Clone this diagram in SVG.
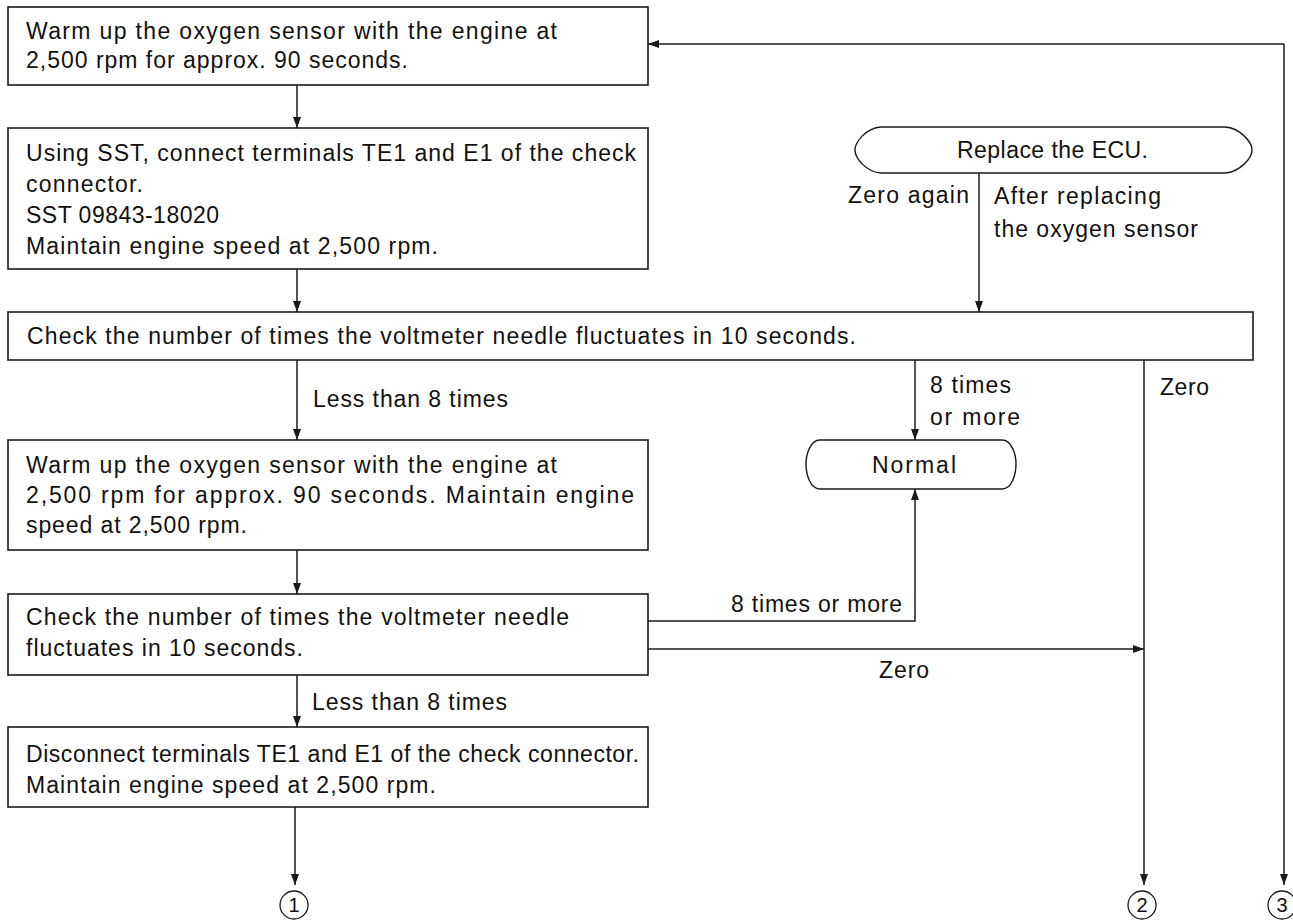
<svg xmlns="http://www.w3.org/2000/svg" width="1293" height="921" viewBox="0 0 1293 921">
<style>
  .box { fill: #ffffff; stroke: #1a1a1a; stroke-width: 1.6; }
  .term { fill: #ffffff; stroke: #1a1a1a; stroke-width: 1.4; }
  .t { font-family: "Liberation Sans", Arial, Helvetica, sans-serif; font-size: 23px; fill: #111111; }
  .num { font-family: "Liberation Sans", Arial, sans-serif; font-size: 20px; fill: #111111; text-anchor: middle; }
  .c { fill: none; stroke: #1a1a1a; stroke-width: 1.5; }
  .ca { fill: none; stroke: #1a1a1a; stroke-width: 1.5; marker-end: url(#ah); }
  .circ { fill: #ffffff; stroke: #1a1a1a; stroke-width: 1.3; }
</style>
<defs>
  <marker id="ah" markerUnits="userSpaceOnUse" markerWidth="11" markerHeight="8" refX="11" refY="4" orient="auto">
    <path d="M0,0 L11,4 L0,8 Z" fill="#1a1a1a"/>
  </marker>
</defs>
<rect x="0" y="0" width="1293" height="921" fill="#ffffff"/>

<g id="connectors">
  <path class="ca" d="M297,85 L297,128"/>
  <path class="ca" d="M297,269 L297,312"/>
  <path class="ca" d="M297,360 L297,440"/>
  <path class="ca" d="M297,550 L297,594"/>
  <path class="ca" d="M297,675 L297,727"/>
  <path class="ca" d="M295,807 L295,885"/>
  <path class="ca" d="M979,173 L979,312"/>
  <path class="ca" d="M915,360 L915,440"/>
  <path class="ca" d="M648,621 L915,621 L915,489"/>
  <path class="ca" d="M1144,360 L1144,885"/>
  <path class="ca" d="M648,649 L1144,649"/>
  <path class="ca" d="M1284,44 L648,44"/>
  <path class="ca" d="M1284,44 L1284,885"/>
  <text class="t" x="313" y="407" textLength="195" lengthAdjust="spacing">Less than 8 times</text>
  <text class="t" x="312" y="710" textLength="195" lengthAdjust="spacing">Less than 8 times</text>
  <text class="t" x="930" y="393" textLength="81" lengthAdjust="spacing">8 times</text>
  <text class="t" x="930" y="425" textLength="90" lengthAdjust="spacing">or more</text>
  <text class="t" x="1160" y="395" textLength="49" lengthAdjust="spacing">Zero</text>
  <text class="t" x="731" y="612" textLength="171" lengthAdjust="spacing">8 times or more</text>
  <text class="t" x="879" y="678" textLength="50" lengthAdjust="spacing">Zero</text>
  <text class="t" x="848" y="203" textLength="121" lengthAdjust="spacing">Zero again</text>
  <text class="t" x="994" y="204" textLength="167" lengthAdjust="spacing">After replacing</text>
  <text class="t" x="994" y="237" textLength="204" lengthAdjust="spacing">the oxygen sensor</text>
</g>

<g id="box1">
  <rect class="box" x="8" y="7" width="640" height="78"/>
  <text class="t" x="26" y="39" textLength="531" lengthAdjust="spacing">Warm up the oxygen sensor with the engine at</text>
  <text class="t" x="26" y="68" textLength="382" lengthAdjust="spacing">2,500 rpm for approx. 90 seconds.</text>
</g>

<g id="box2">
  <rect class="box" x="8" y="128" width="640" height="141"/>
  <text class="t" x="26" y="161" textLength="610" lengthAdjust="spacing">Using SST, connect terminals TE1 and E1 of the check</text>
  <text class="t" x="26" y="192" textLength="117" lengthAdjust="spacing">connector.</text>
  <text class="t" x="26" y="223" textLength="193" lengthAdjust="spacing">SST 09843-18020</text>
  <text class="t" x="26" y="254" textLength="412" lengthAdjust="spacing">Maintain engine speed at 2,500 rpm.</text>
</g>

<g id="box3">
  <rect class="box" x="8" y="312" width="1245" height="48"/>
  <text class="t" x="27" y="344" textLength="829" lengthAdjust="spacing">Check the number of times the voltmeter needle fluctuates in 10 seconds.</text>
</g>

<g id="box4">
  <rect class="box" x="8" y="440" width="640" height="110"/>
  <text class="t" x="26" y="473" textLength="531" lengthAdjust="spacing">Warm up the oxygen sensor with the engine at</text>
  <text class="t" x="26" y="503" textLength="608" lengthAdjust="spacing">2,500 rpm for approx. 90 seconds. Maintain engine</text>
  <text class="t" x="26" y="533" textLength="221" lengthAdjust="spacing">speed at 2,500 rpm.</text>
</g>

<g id="box5">
  <rect class="box" x="8" y="594" width="640" height="81"/>
  <text class="t" x="26" y="625" textLength="543" lengthAdjust="spacing">Check the number of times the voltmeter needle</text>
  <text class="t" x="26" y="656" textLength="277" lengthAdjust="spacing">fluctuates in 10 seconds.</text>
</g>

<g id="box6">
  <rect class="box" x="8" y="727" width="640" height="80"/>
  <text class="t" x="26" y="762" textLength="613" lengthAdjust="spacing">Disconnect terminals TE1 and E1 of the check connector.</text>
  <text class="t" x="26" y="793" textLength="410" lengthAdjust="spacing">Maintain engine speed at 2,500 rpm.</text>
</g>

<g id="replace-ecu">
  <path class="term" d="M881,127 L1225,127 C1240,128 1252,142 1252,150 C1252,158 1240,172 1225,173 L881,173 C866,172 855,158 855,150 C855,142 866,128 881,127 Z"/>
  <text class="t" x="957" y="158" textLength="191" lengthAdjust="spacing">Replace the ECU.</text>
</g>

<g id="normal">
  <path class="term" d="M820,440 L1002,440 C1012,440 1016,455 1016,464 C1016,474 1012,489 1002,489 L820,489 C810,489 806,474 806,464 C806,455 810,440 820,440 Z"/>
  <text class="t" x="872" y="473" textLength="84" lengthAdjust="spacing">Normal</text>
</g>

<g id="conn1">
  <circle class="circ" cx="294" cy="905" r="14"/>
  <text class="num" x="294" y="912">1</text>
</g>
<g id="conn2">
  <circle class="circ" cx="1142" cy="905" r="14"/>
  <text class="num" x="1142" y="912">2</text>
</g>
<g id="conn3">
  <circle class="circ" cx="1282" cy="905" r="14"/>
  <text class="num" x="1282" y="912">3</text>
</g>
</svg>
